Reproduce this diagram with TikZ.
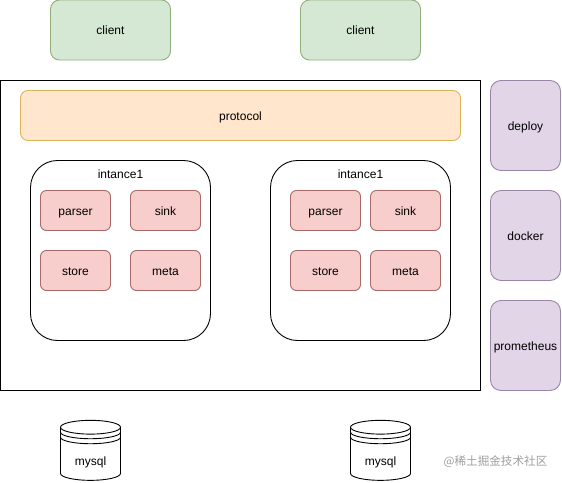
\documentclass[tikz,border=0pt]{standalone}
\usepackage{fontspec}
\setmainfont{Liberation Sans}
\newfontfamily\cjk{Noto Sans CJK SC}
\usetikzlibrary{shapes.geometric, positioning}
\definecolor{clientfill}{HTML}{D5E8D4}
\definecolor{clientline}{HTML}{8FB07A}
\definecolor{protofill}{HTML}{FFE6CC}
\definecolor{protoline}{HTML}{D9B45A}
\definecolor{partfill}{HTML}{F8CECC}
\definecolor{partline}{HTML}{A86A68}
\definecolor{toolfill}{HTML}{E1D5E7}
\definecolor{toolline}{HTML}{9A87A8}

\begin{document}
\begin{tikzpicture}[x=1pt, y=1pt, line width=0.9pt, font=\fontsize{12pt}{14pt}\selectfont, text height=9pt, text depth=0pt]
    \tikzstyle{client} = [rectangle, rounded corners=9pt, draw=clientline, fill=clientfill, outer sep=0pt, minimum width=120pt, minimum height=60pt, align=center]
    \tikzstyle{outerbox} = [rectangle, draw=black, outer sep=0pt, minimum width=480pt, minimum height=310pt]
    \tikzstyle{protocol} = [rectangle, rounded corners=7.5pt, draw=protoline, fill=protofill, outer sep=0pt, minimum width=440pt, minimum height=50pt, align=center]
    \tikzstyle{instance} = [rectangle, rounded corners=27pt, draw=black, outer sep=0pt, minimum width=180pt, minimum height=180pt]
    \tikzstyle{part} = [rectangle, rounded corners=6pt, draw=partline, fill=partfill, outer sep=0pt, minimum width=70pt, minimum height=40pt, align=center]
    \tikzstyle{tool} = [rectangle, rounded corners=10.5pt, draw=toolline, fill=toolfill, outer sep=0pt, inner sep=0pt, minimum width=70pt, minimum height=90pt, align=center]
    \tikzstyle{db} = [cylinder, draw=black, fill=white, shape border rotate=90, aspect=0.44, outer sep=0pt, inner sep=0pt, minimum width=60pt, minimum height=60pt, align=center]
    \tikzstyle{title} = [inner sep=0pt, align=center]

    \useasboundingbox (0,0) rectangle (562,-482);

    % Clients and the main frame
    \node (client1) [client] at (110.5,-30) {client};
    \node (client2) [client, right=130pt of client1] {client};
    \node (frame) [outerbox] at (240.5,-235.5) {};
    \node (proto) [protocol, below right=10pt and 20pt of frame.north west] {protocol};

    % First instance
    \node (inst1) [instance, below right=80pt and 30pt of frame.north west] {};
    \node (title1) [title, below=9pt of inst1.north] {intance1};
    \node (parser1) [part, below right=30pt and 10pt of inst1.north west] {parser};
    \node (sink1) [part, right=20pt of parser1] {sink};
    \node (store1) [part, below=20pt of parser1] {store};
    \node (meta1) [part, right=20pt of store1] {meta};

    % Second instance
    \node (inst2) [instance, right=60pt of inst1] {};
    \node (title2) [title, below=9pt of inst2.north] {intance1};
    \node (parser2) [part, below right=30pt and 20pt of inst2.north west] {parser};
    \node (sink2) [part, right=10pt of parser2] {sink};
    \node (store2) [part, below=20pt of parser2] {store};
    \node (meta2) [part, right=10pt of store2] {meta};

    % Side column
    \node (deploy) [tool, below right=0pt and 10pt of frame.north east] {deploy};
    \node (docker) [tool, below=20pt of deploy] {docker};
    \node (prom) [tool, below=20pt of docker] {prometheus};

    % Databases with their extra rings
    \node (db1) [db] at (90.5,-454) {\raisebox{-7pt}[0pt][0pt]{mysql}};
    \node (db2) [db, right=230pt of db1] {\raisebox{-7pt}[0pt][0pt]{mysql}};
    \foreach \d in {5,10} {
        \draw ([yshift=-\d pt]db1.before top) arc[start angle=180, end angle=360, x radius=30pt, y radius=6.5pt];
        \draw ([yshift=-\d pt]db2.before top) arc[start angle=180, end angle=360, x radius=30pt, y radius=6.5pt];
    }

    \node (mark) [title, text=black!38, font=\fontsize{11.6pt}{14pt}\cjk] at (495.5,-461) {@稀土掘金技术社区};
\end{tikzpicture}
\end{document}
